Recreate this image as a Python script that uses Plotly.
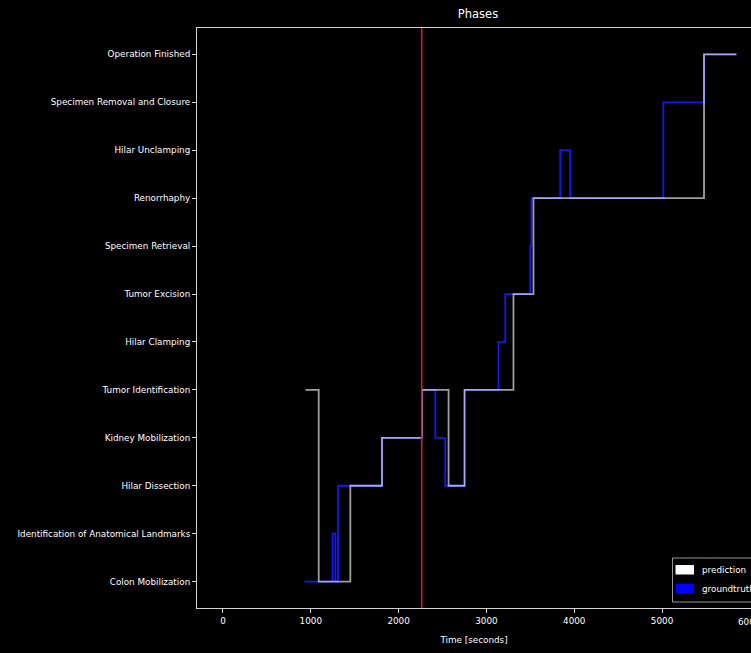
import plotly.graph_objects as go

phases = [
    "Colon Mobilization",
    "Identification of Anatomical Landmarks",
    "Hilar Dissection",
    "Kidney Mobilization",
    "Tumor Identification",
    "Hilar Clamping",
    "Tumor Excision",
    "Specimen Retrieval",
    "Renorrhaphy",
    "Hilar Unclamping",
    "Specimen Removal and Closure",
    "Operation Finished",
]

# prediction: change times [s] and phase index
pred_t = [938, 1090, 1450, 1811, 2266, 2569, 2751, 3308, 3536, 5478, 5847]
pred_p = [4, 0, 2, 3, 4, 2, 4, 6, 8, 11, 11]

# groundtruth
gt_t = [927, 1249, 1280, 1310, 1811, 2266, 2418, 2531, 2751, 3138, 3214, 3498, 3512, 3840, 3954, 5015, 5478, 5847]
gt_p = [0, 1, 0, 2, 3, 4, 3, 2, 4, 5, 6, 7, 8, 9, 8, 10, 11, 11]

current_time = 2263

x_ticks = [0, 1000, 2000, 3000, 4000, 5000, 6000]

W, H = 751, 653
L, R, T, B = 197, 751, 28, 608
FS = 8.8

def px(x):
    return (x - L) / (R - L)

def py(y):
    return (B - y) / (B - T)

fig = go.Figure()
fig.add_trace(go.Scatter(
    x=gt_t, y=gt_p, mode="lines", line=dict(shape="hv", color="rgb(20,20,255)", width=1.8),
    name="groundtruth", showlegend=False, hoverinfo="skip"))
fig.add_trace(go.Scatter(
    x=pred_t, y=pred_p, mode="lines", line=dict(shape="hv", color="rgba(255,255,255,0.62)", width=1.8),
    name="prediction", showlegend=False, hoverinfo="skip"))

fig.add_shape(type="line", xref="x", yref="paper", x0=current_time, x1=current_time, y0=0, y1=1,
              line=dict(color="rgb(210,30,30)", width=1.6), layer="above")

# legend box
fig.add_shape(type="rect", xref="paper", yref="paper", x0=px(672.5), x1=px(760), y0=py(602), y1=py(558),
              line=dict(color="rgb(150,150,150)", width=1), fillcolor="rgba(0,0,0,0.8)", layer="above")
fig.add_shape(type="rect", xref="paper", yref="paper", x0=px(675.5), x1=px(694), y0=py(574.5), y1=py(565),
              line=dict(width=0), fillcolor="white", layer="above")
fig.add_shape(type="rect", xref="paper", yref="paper", x0=px(675.5), x1=px(694), y0=py(593.5), y1=py(583.5),
              line=dict(width=0), fillcolor="rgb(0,0,255)", layer="above")
for label, yy in [("prediction", 569.5), ("groundtruth", 588.5)]:
    fig.add_annotation(text=label, xref="paper", yref="paper", x=px(700), y=py(yy),
                       xanchor="left", yanchor="middle", showarrow=False,
                       font=dict(color="white", size=FS, family="DejaVu Sans"))

# last tick label, partly beyond the right edge as in the reference
fig.add_annotation(text=str(x_ticks[-1]), xref="x", yref="paper", x=x_ticks[-1], y=py(622),
                   xanchor="center", yanchor="middle", showarrow=False,
                   font=dict(color="white", size=FS, family="DejaVu Sans"))

fig.update_layout(
    width=W, height=H,
    margin=dict(l=L, r=W - R, t=T, b=H - B),
    paper_bgcolor="black", plot_bgcolor="black",
    font=dict(family="DejaVu Sans", color="white", size=FS),
    title=dict(text="Phases", x=px(478), xref="paper", xanchor="center", y=1 - 14 / H, yanchor="middle",
               font=dict(size=11.5, color="white")),
    showlegend=False,
)
fig.update_xaxes(
    range=[-296, 6013], tickvals=x_ticks[:-1], ticktext=[str(v) for v in x_ticks[:-1]],
    showgrid=False, zeroline=False, showline=True, linecolor="rgb(210,210,210)", linewidth=1,
    mirror=True, ticks="outside", ticklen=4, tickcolor="rgb(210,210,210)", automargin=False,
    title=dict(text="Time [seconds]", standoff=12, font=dict(size=FS)),
)
fig.update_yaxes(
    range=[-0.55, 11.55], tickvals=list(range(len(phases))), ticktext=phases,
    showgrid=False, zeroline=False, showline=True, linecolor="rgb(210,210,210)", linewidth=1,
    mirror=False, ticks="outside", ticklen=4, tickcolor="rgb(210,210,210)", automargin=False,
)

fig.write_html("out.html", config={"displayModeBar": False},
               post_script="document.body.style.margin='0';document.body.style.overflow='hidden';")
